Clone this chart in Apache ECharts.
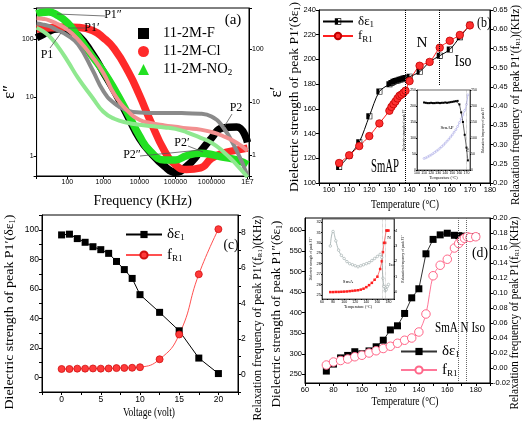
<!DOCTYPE html>
<html><head><meta charset="utf-8">
<script src="https://cdn.jsdelivr.net/npm/echarts@6/dist/echarts.min.js"></script>
<style>html,body{margin:0;padding:0;background:#fff}#c{width:523px;height:423px}</style>
</head><body><div id="c"></div>
<script>
// ---------- Panel (a) ----------
const freqA   = [14,20,30,50,100,200,500,1000,2000,5000,1e4,2e4,5e4,1e5,2e5,5e5,1e6,2e6,5e6,1e7];
const epsF    = [105,118,135,148,140,115,55,27,13,4.5,2.0,1.15,0.66,0.52,0.65,1.2,2.0,3.0,3.1,1.7];
const epsCl   = [148,152,155,158,160,158,140,105,68,27,11,4.0,1.2,0.7,0.58,0.62,0.9,1.1,1.25,1.35];
const epsNO2  = [270,285,290,260,190,110,50,28,14,5,2.2,1.2,0.85,0.85,1.0,1.1,1.05,0.95,0.85,0.7];
const eps1F   = [300,290,270,230,180,120,40,16,9.5,6.8,6.3,6.2,6.2,6.2,6.1,6.0,5.3,3.5,1.2,0.4];
const eps1Cl  = [380,370,350,300,230,150,70,35,14,6.5,4.6,4.0,3.6,3.4,3.2,3.0,2.7,2.3,1.7,1.2];
const eps1NO2 = [250,220,180,120,60,28,12,6.5,4.8,4.0,3.7,3.5,3.3,3.1,2.7,2.1,1.7,1.2,0.65,0.38];
const logTicksA = ['100','1000','10000','100000','1000000','1E7'];
// ---------- Panel (b) ----------
const tempB  = [105,110,115,120,125,130,131,132,133,134,135,136,137,138,140,145,150,155,160,165,170];
const deltaB = [113,122,133,154,174,180,181,182,182.5,183,183.5,184,184.5,185,186,190,198,203,208,218,228];
const freqRB = [0.252,0.272,0.296,0.322,0.355,0.388,0.398,0.405,0.412,0.42,0.427,0.43,0.435,0.44,0.465,0.505,0.515,0.552,0.57,0.585,0.61];
const tempIB  = [110,112.5,115,117.5,120,122.5,125,127.5,130,132.5,135,137.5,140,142.5,145,147.5,150,152.5,155,157.5,160,162.5,165,167.5,170,172];
const deltaIB = [211,210,209,209,210,209,209,210,210,209,210,210,211,210,211,212,213,214,215,216,205,180,150,110,70,30];
const freqIB  = [36,38,41,44,47,51,55,59,63,68,73,78,84,90,96,103,110,118,126,136,148,160,172,186,205,235];
// ---------- Panel (c) ----------
const voltC  = [0,1,2,3,4,5,6,7,8,9,10,12.5,15,17.5,20];
const deltaC = [96.5,97,94,91.5,88.5,86.5,84,78.5,73,67,56,44,31.5,13,2.5];
const freqRC = [0.3,0.3,0.32,0.32,0.33,0.32,0.33,0.35,0.36,0.37,0.4,0.85,2.25,5.65,8.2];
// ---------- Panel (d) ----------
const tempD  = [75,80,85,90,95,100,105,110,115,120,125,130,135,140,145,150,155,160,165,168,170,172,174,176,180];
const deltaD = [258,275,290,296,305,300,307,317,333,358,368,398,436,458,543,578,589,593,588,587,586,585,584,583,585];
const freqRD = [0.004,0.008,0.010,0.012,0.015,0.017,0.020,0.023,0.026,0.029,0.033,0.037,0.040,0.048,0.072,0.123,0.137,0.145,0.160,0.166,0.170,0.173,0.175,0.174,0.175];
const ticksDL = [250,300,350,400,450,500,550,600];
const tempID  = [75,80,85,90,95,100,105,110,115,120,125,130,135,140,145,150,155,160,165,168,170,172,174,176,178,180];
const deltaID = [29.7,31.1,30.2,29.3,28.8,28.5,28.2,28.0,27.9,27.8,27.7,27.8,27.9,28.0,28.1,28.3,28.5,28.7,28.9,28.6,26.6,25.8,25.4,25.5,25.8,26.0];
const freqID  = [0,0,0.01,0.01,0.02,0.03,0.04,0.06,0.08,0.1,0.12,0.16,0.22,0.32,0.45,0.6,0.8,1.0,1.5,2.0,2.6,3.2,3.2,4.0,4.0,4.0];
const ticksIDL = [25,26,27,28,29,30,31,32];
const ticksIDR = [0,1,2,3,4];

const SERIF = 'Liberation Serif', SANS = 'Liberation Sans';
function merge(a,b){const o=Object.assign({},a);for(const k in b){if(b[k]&&typeof b[k]==='object'&&!Array.isArray(b[k])&&a[k]&&typeof a[k]==='object')o[k]=merge(a[k],b[k]);else o[k]=b[k];}return o;}
function ax(extra){return merge({
  axisLine:{show:true,onZero:false,lineStyle:{color:'#000',width:1}},
  axisTick:{show:true,inside:false,length:3,lineStyle:{color:'#000'}},
  axisLabel:{color:'#000',fontSize:8,fontFamily:SANS,margin:3},
  splitLine:{show:false},
  nameLocation:'middle',
  nameTextStyle:{color:'#000',fontFamily:SERIF,fontSize:13,rich:{s:{fontSize:8,fontFamily:SERIF,verticalAlign:'bottom',padding:[5,0,0,0]}}}
},extra);}
function logFmt(v){const e=Math.log10(v),r=Math.round(e);if(Math.abs(e-r)>1e-6)return '';return r>=7?'1E'+r:String(Math.round(Math.pow(10,r)));}
function logFmtX(v){const e=Math.log10(v),r=Math.round(e);if(Math.abs(e-r)>1e-6||r<2)return '';return logTicksA[r-2]||'';}
const pts=(xs,ys)=>xs.map((x,i)=>[x,ys[i]]);
const halfSq='path://M0,0H10V10H0Z M1,1V9H9V1Z M1,1H5V9H1Z';

// text measuring for condensed labels
const mctx=document.createElement('canvas').getContext('2d');
function measure(t,fs,sfs){let w=0;const re=/\{s\|([^}]*)\}|([^{]+)/g;let m;
  while((m=re.exec(t))){if(m[1]!==undefined){mctx.font=sfs+'px "'+SERIF+'"';w+=mctx.measureText(m[1]).width;}else{mctx.font=fs+'px "'+SERIF+'"';w+=mctx.measureText(m[2]).width;}}
  return w;}
function fit(x,y,t,fs,len,rot){const sfs=Math.round(fs*0.62);const w=measure(t,fs,sfs);
  return {type:'text',x:x,y:y,rotation:rot||0,scaleX:len/w,z:50,
    style:{text:t,fontFamily:SERIF,fontSize:fs,fill:'#000',align:'center',verticalAlign:'middle',
      rich:{s:{fontSize:sfs,fontFamily:SERIF,verticalAlign:'bottom',fill:'#000'}}}};}
const R90=Math.PI/2;

const chart=echarts.init(document.getElementById('c'),null,{renderer:'canvas'});
const gridStyle={show:true,borderColor:'#000',borderWidth:1,containLabel:false};
const legendRich={s:{fontSize:9,fontFamily:SERIF,verticalAlign:'bottom',padding:[7,0,0,0]}};
const legendNames={'b_de':'δε{s|1}','b_fr':'f{s|R1}','c_de':'δε{s|1}','c_fr':'f{s|R1}','d_de':'δε{s|1}','d_fr':'f{s|R1}','11-2M-NO2':'11-2M-NO{s|2}'};
const lf=n=>legendNames[n]||n;
function txt(x,y,t,fs,extra){return merge({type:'text',x:x,y:y,z:50,style:{text:t,fontFamily:SERIF,fontSize:fs,fill:'#000',align:'center',verticalAlign:'middle'}},extra||{});}
function ln(x1,y1,x2,y2,c){return {type:'line',z:50,shape:{x1,y1,x2,y2},style:{stroke:c||'#555',lineWidth:0.8}};}

const option={
  animation:false,
  backgroundColor:'#fff',
  grid:[
    merge(gridStyle,{left:36,top:8,width:213,height:168}),
    merge(gridStyle,{left:319,top:10,width:171,height:173}),
    merge(gridStyle,{left:42,top:215,width:196,height:177}),
    merge(gridStyle,{left:305,top:218,width:185,height:165}),
    merge(gridStyle,{left:417,top:90,width:53,height:80,backgroundColor:'#fff',borderWidth:0.6}),
    merge(gridStyle,{left:322,top:219,width:72,height:80,backgroundColor:'#fff',borderWidth:0.6})
  ],
  xAxis:[
    ax({type:'log',gridIndex:0,min:14,max:1.1e7,logBase:10,axisLabel:{formatter:logFmtX,fontSize:7},name:'Frequency (KHz)',nameGap:18,nameTextStyle:{fontSize:14}}),
    ax({type:'value',gridIndex:1,min:95,max:180,interval:5,axisLabel:{formatter:v=>v%10===0?v:'',fontSize:7.5}}),
    ax({type:'value',gridIndex:2,min:-2.5,max:22.5,interval:2.5,axisLabel:{formatter:v=>v%5===0?v:'',fontSize:8.5}}),
    ax({type:'value',gridIndex:3,min:60,max:190,interval:10,axisLabel:{formatter:v=>v%20===0?v:'',fontSize:7.5}}),
    ax({type:'value',gridIndex:4,min:100,max:175,interval:5,axisTick:{length:1},axisLabel:{formatter:v=>v%10===0?v:'',fontSize:3.5,margin:1},axisLine:{lineStyle:{width:0.6}},name:'Temperature (°C)',nameGap:5,nameTextStyle:{fontSize:4}}),
    ax({type:'value',gridIndex:5,min:60,max:190,interval:10,axisTick:{length:1},axisLabel:{formatter:v=>v%20===0?v:'',fontSize:3.5,margin:1},axisLine:{lineStyle:{width:0.6}},name:'Temperature (°C)',nameGap:5,nameTextStyle:{fontSize:4}})
  ],
  yAxis:[
    ax({type:'log',gridIndex:0,min:0.45,max:340,logBase:10,axisLabel:{formatter:logFmt,fontSize:7},name:'ε″',nameGap:12,nameRotate:90,nameTextStyle:{fontSize:17}}),
    ax({type:'log',gridIndex:0,position:'right',min:0.4,max:590,logBase:10,axisLabel:{formatter:logFmt,fontSize:7},name:'ε′',nameGap:12,nameRotate:90,nameTextStyle:{fontSize:17}}),
    ax({type:'value',gridIndex:1,min:100,max:240,interval:20,axisLabel:{fontSize:7.5}}),
    ax({type:'value',gridIndex:1,position:'right',min:0.2,max:0.65,interval:0.05,axisLabel:{formatter:v=>v.toFixed(2),fontSize:7.5}}),
    ax({type:'value',gridIndex:2,min:-10,max:110,interval:10,axisLabel:{formatter:v=>v%20===0?v:'',fontSize:8.5}}),
    ax({type:'value',gridIndex:2,position:'right',min:-1,max:9,interval:1,axisLabel:{formatter:v=>v%2===0?v:'',fontSize:8.5}}),
    ax({type:'value',gridIndex:3,min:229,max:630,axisLabel:{customValues:ticksDL,fontSize:7.5},axisTick:{customValues:ticksDL}}),
    ax({type:'value',gridIndex:3,position:'right',min:-0.02,max:0.2,interval:0.02,axisLabel:{formatter:v=>v.toFixed(2),fontSize:7.5}}),
    ax({type:'value',gridIndex:4,min:0,max:250,interval:50,axisTick:{length:1},axisLabel:{fontSize:3.5,margin:1},axisLine:{lineStyle:{width:0.6}},name:'Dielectric strength of peak P1′',nameGap:7,nameRotate:90,nameTextStyle:{fontSize:3.5}}),
    ax({type:'value',gridIndex:4,position:'right',min:0,max:250,interval:50,axisTick:{length:1},axisLabel:{fontSize:3.5,margin:1},axisLine:{lineStyle:{width:0.6}},name:'Relaxation frequency of peak P1′',nameGap:7,nameRotate:90,nameTextStyle:{fontSize:3.5}}),
    ax({type:'value',gridIndex:5,min:24.6,max:32.3,axisTick:{length:1,customValues:ticksIDL},axisLabel:{fontSize:4,margin:1,customValues:ticksIDL},axisLine:{lineStyle:{width:0.6}},name:'Dielectric strength of peak P2″',nameGap:6,nameRotate:90,nameTextStyle:{fontSize:3.5}}),
    ax({type:'value',gridIndex:5,position:'right',min:-0.45,max:4.75,axisTick:{length:1,customValues:ticksIDR},axisLabel:{fontSize:4,margin:1,customValues:ticksIDR},axisLine:{lineStyle:{width:0.6}},name:'Relaxation frequency of peak P2″',nameGap:6,nameRotate:90,nameTextStyle:{fontSize:3.5}})
  ],
  legend:[
    {orient:'vertical',left:138,top:26,itemGap:3,itemWidth:11,itemHeight:11,padding:0,
     data:[{name:'11-2M-F',icon:'rect'},{name:'11-2M-Cl',icon:'circle'},{name:'11-2M-NO2',icon:'triangle'}],
     formatter:lf,textStyle:{fontFamily:SERIF,fontSize:14.5,color:'#000',padding:[0,0,0,9],rich:legendRich}},
    {orient:'vertical',left:322,top:15,itemGap:0,itemWidth:30,itemHeight:8,padding:0,data:['b_de','b_fr'],
     formatter:lf,textStyle:{fontFamily:SERIF,fontSize:13,color:'#000',rich:legendRich}},
    {orient:'vertical',left:125,top:227,itemGap:5,itemWidth:36,itemHeight:9,padding:0,data:['c_de','c_fr'],
     formatter:lf,textStyle:{fontFamily:SERIF,fontSize:15,color:'#000',rich:legendRich}},
    {orient:'vertical',left:400,top:344,itemGap:3,itemWidth:36,itemHeight:9,padding:0,data:['d_de','d_fr'],
     formatter:lf,textStyle:{fontFamily:SERIF,fontSize:15,color:'#000',rich:legendRich}}
  ],
  series:[
    {type:'line',name:'11-2M-F',xAxisIndex:0,yAxisIndex:0,data:pts(freqA,epsF),smooth:true,symbol:'none',color:'#000',lineStyle:{width:7.5,color:'#000'}},
    {type:'line',name:'11-2M-Cl',xAxisIndex:0,yAxisIndex:0,data:pts(freqA,epsCl),smooth:true,symbol:'none',color:'#ff2a2a',lineStyle:{width:7.5,color:'#ff2a2a'}},
    {type:'line',name:'11-2M-NO2',xAxisIndex:0,yAxisIndex:0,data:pts(freqA,epsNO2),smooth:true,symbol:'none',color:'#22e022',lineStyle:{width:7.5,color:'#22e022'}},
    {type:'line',name:'eps1F',xAxisIndex:0,yAxisIndex:1,data:pts(freqA,eps1F),smooth:true,symbol:'none',lineStyle:{width:4,color:'#8a8a8a'}},
    {type:'line',name:'eps1Cl',xAxisIndex:0,yAxisIndex:1,data:pts(freqA,eps1Cl),smooth:true,symbol:'none',lineStyle:{width:4,color:'#f29090'}},
    {type:'line',name:'eps1NO2',xAxisIndex:0,yAxisIndex:1,data:pts(freqA,eps1NO2),smooth:true,symbol:'none',lineStyle:{width:4,color:'#8fe88f'}},

    {type:'line',name:'b_de',xAxisIndex:1,yAxisIndex:2,data:pts(tempB,deltaB),smooth:0.3,symbol:halfSq,symbolSize:6,color:'#000',itemStyle:{color:'#000'},lineStyle:{width:1,color:'#000'},
     markLine:{silent:true,symbol:['none','none'],label:{show:false},lineStyle:{type:'dotted',color:'#000',width:1},
       data:[{xAxis:138},[{coord:[155,240]},{coord:[155,179]}]]}},
    {type:'line',name:'b_fr',xAxisIndex:1,yAxisIndex:3,data:pts(tempB,freqRB),smooth:0.3,symbol:'circle',symbolSize:7.5,color:'#ff2020',itemStyle:{color:'#ff3030',borderColor:'#c00000',borderWidth:0.8},lineStyle:{width:1,color:'#ff2020'}},
    {type:'line',name:'ib_de',xAxisIndex:4,yAxisIndex:8,data:pts(tempIB,deltaIB),symbol:'rect',symbolSize:2,itemStyle:{color:'#000'},lineStyle:{width:0.6,color:'#000'}},
    {type:'line',name:'ib_fr',xAxisIndex:4,yAxisIndex:9,data:pts(tempIB,freqIB),smooth:true,symbol:'circle',symbolSize:2,itemStyle:{color:'#fff',borderColor:'#9d9de0',borderWidth:0.5},lineStyle:{width:0.8,color:'#a8a8e8'},
     markLine:{silent:true,symbol:['none','none'],label:{show:false},lineStyle:{type:'dotted',color:'#888',width:0.6},data:[{xAxis:170}]}},

    {type:'line',name:'c_de',xAxisIndex:2,yAxisIndex:4,data:pts(voltC,deltaC),symbol:'rect',symbolSize:7,color:'#000',itemStyle:{color:'#000'},lineStyle:{width:1,color:'#000'}},
    {type:'line',name:'c_fr',xAxisIndex:2,yAxisIndex:5,data:pts(voltC,freqRC),smooth:true,symbol:'circle',symbolSize:7,color:'#ff3030',itemStyle:{color:'#ff3a3a',borderColor:'#d01010',borderWidth:0.8},lineStyle:{width:1,color:'#ff5050'}},

    {type:'line',name:'d_de',xAxisIndex:3,yAxisIndex:6,data:pts(tempD,deltaD),symbol:'rect',symbolSize:7,color:'#000',itemStyle:{color:'#000'},lineStyle:{width:1,color:'#333'},
     markLine:{silent:true,symbol:['none','none'],label:{show:false},lineStyle:{type:'dotted',color:'#666',width:1},data:[{xAxis:168},{xAxis:173}]}},
    {type:'line',name:'d_fr',xAxisIndex:3,yAxisIndex:7,data:pts(tempD,freqRD),smooth:0.3,symbol:'circle',symbolSize:8.5,color:'#ff6688',itemStyle:{color:'#fff',borderColor:'#ff6688',borderWidth:1},lineStyle:{width:1,color:'#ff7799'}},
    {type:'line',name:'id_de',xAxisIndex:5,yAxisIndex:10,data:pts(tempID,deltaID),smooth:true,symbol:'circle',symbolSize:2.5,itemStyle:{color:'#fff',borderColor:'#9aa8a8',borderWidth:0.6},lineStyle:{width:0.8,color:'#9aa8a8'},
     markLine:{silent:true,symbol:['none','none'],label:{show:false},lineStyle:{type:'dotted',color:'#999',width:0.6},data:[{xAxis:168},{xAxis:175}]}},
    {type:'line',name:'id_fr',xAxisIndex:5,yAxisIndex:11,data:pts(tempID,freqID),symbol:'rect',symbolSize:2.5,itemStyle:{color:'#ff2020'},lineStyle:{width:0.6,color:'#ff2020'}}
  ],
  graphic:[
    txt(233,20,'(a)',15),
    txt(113,15,'P1″',12), ln(57,14,105,16),
    txt(92,28,'P1′',12), ln(68,28,85,28),
    txt(47,55,'P1',12), ln(61,33,50,48),
    txt(236,108,'P2',12), ln(232,114,224,127),
    txt(182,143,'P2′',12), ln(188,146,203,152),
    txt(132,155,'P2″',12), ln(140,156,200,150),
    // panel (b) texts
    fit(422,43,'N',15,11), fit(463,62,'Iso',17,17), fit(385,167,'SmAP',19,28), fit(484,23,'(b)',15,14),
    fit(405,205,'Temperature (°C)',13,68),
    fit(295,97,'Dielectric strength of peak P1′(δε{s|1})',13,190,R90),
    fit(516,105,'Relaxation frequency of peak P1′(f{s|R1})(KHz)',12,200,R90),
    txt(447,128,'SmAP',5), txt(468,150,'N',5,{rotation:R90}),
    // panel (c) texts
    fit(231,245,'(c)',14,15),
    fit(149,413,'Voltage (volt)',13,52),
    fit(10,312,'Dielectric strength of peak P1′(δε{s|1})',13,195,R90),
    fit(258,318,'Relaxation frequency of peak P1′(f{s|R1})(KHz)',12,205,R90),
    // panel (d) texts
    fit(460,328,'SmA N Iso',15,50), fit(480,253,'(d)',14,16),
    fit(405,402,'Temperature (°C)',13,67),
    fit(277,314,'Dielectric strength of peak P1″(δε{s|1})',13,187,R90),
    fit(515,313,'Relaxation frequency of peak P1(f{s|R1})(KHz)',12,193,R90),
    txt(348,282,'SmA',5), txt(389,238,'N',5), txt(392,265,'Iso',5)
  ]
};
chart.setOption(option);
</script></body></html>
